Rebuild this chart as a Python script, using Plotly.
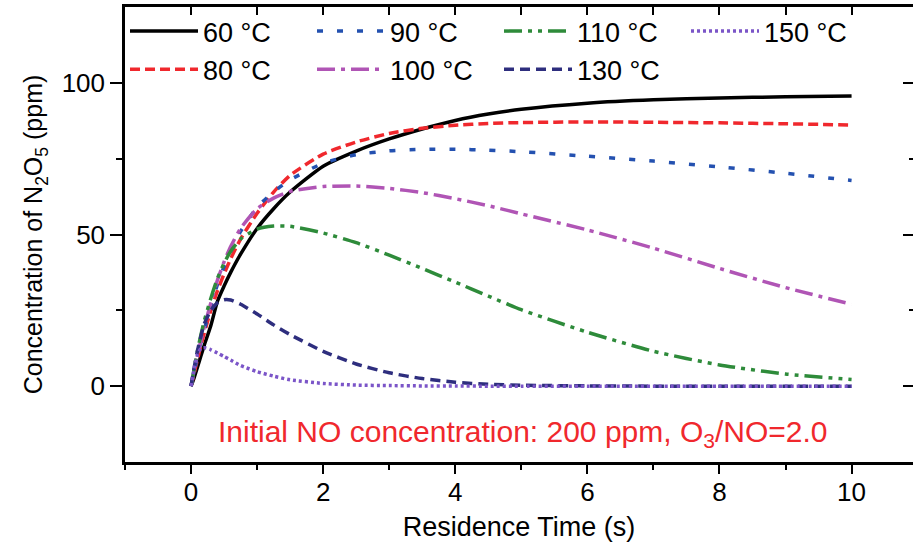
import plotly.graph_objects as go

# Residence time (s)
time_s = [0, 0.05, 0.1, 0.15, 0.2, 0.3, 0.4, 0.5, 0.6, 0.75, 1, 1.25, 1.5, 2, 2.5,
          3, 3.5, 4, 4.5, 5, 6, 7, 8, 9, 10]

# N2O5 concentration (ppm) per temperature
c60 = [0, 3, 6.5, 10, 13.5, 20, 28, 33, 37.5, 43.5, 52, 58.5, 64, 72.5, 77.5,
       81.5, 84.8, 87.6, 89.7, 91.3, 93.3, 94.4, 95, 95.4, 95.7]
c80 = [0, 4.5, 9, 13.5, 17.5, 25, 31.5, 37, 42, 48.5, 57, 64, 69.5, 76.5, 80.5,
       83.3, 85, 86, 86.6, 86.9, 87.1, 87, 86.8, 86.5, 86.1]
c90 = [0, 5, 10, 14.5, 18.5, 26.5, 33.5, 39.5, 44.5, 51, 59, 64, 68, 73.5, 76.3,
       77.6, 78.1, 78.1, 77.8, 77.3, 75.8, 74.2, 72.3, 70.2, 67.8]
c100 = [0, 5.5, 10.5, 15, 19.5, 27.5, 35, 41, 46, 52, 58.5, 62, 64.2, 65.8, 66,
        65.2, 63.8, 61.8, 59.5, 56.8, 51.5, 45.5, 38.8, 32.5, 27]
c110 = [0, 6, 12, 17, 21.5, 29, 35.5, 40.5, 44.5, 48.5, 51.8, 52.8, 52.7, 50.5, 47.3,
        43.2, 38.8, 34.3, 29.7, 25.2, 17.8, 11.5, 7, 4, 2.2]
c130 = [0, 6.5, 12, 16.5, 20.5, 25, 27.5, 28.5, 28.4, 27, 23.8, 20.2, 17, 11.5, 7.3,
        4.4, 2.5, 1.3, 0.6, 0.3, 0.1, 0, 0, 0, 0]
c150 = [0, 6, 10.5, 12.5, 12.7, 12, 10.9, 9.8, 8.6, 6.8, 4.8, 3.3, 2.1, 0.9, 0.35,
        0.2, 0.08, 0.03, 0.01, 0, 0, 0, 0, 0, 0]

series_names = ["60 °C", "80 °C", "90 °C", "100 °C", "110 °C", "130 °C", "150 °C"]
series_values = [c60, c80, c90, c100, c110, c130, c150]
colors = ["#000000", "#F0282D", "#2451B0", "#B055B5", "#2E8B3A", "#2E2E7E", "#7B55C8"]
dashes = ["solid", "10px,5px", "6px,14px", "18px,6px,4px,6px",
          "18px,6px,4px,6px,4px,6px", "10px,6px", "3px,3px"]
legend_ranks = [1, 5, 2, 6, 3, 7, 4]

FONT = "Liberation Sans, Arial, sans-serif"

fig = go.Figure()
for name, vals, col, dsh, rk in zip(series_names, series_values, colors, dashes, legend_ranks):
    fig.add_trace(go.Scatter(
        x=time_s, y=vals, name=name, mode="lines",
        line=dict(color=col, width=3.5, dash=dsh, shape="spline", smoothing=0.6),
        legendrank=rk,
    ))

# invisible helper trace so the mirrored tick axes (top / right) are drawn
fig.add_trace(go.Scatter(x=[None], y=[None], xaxis="x2", yaxis="y2",
                         showlegend=False, hoverinfo="skip", mode="lines"))

xr = [-1, 10.93]
yr = [-25, 125]

fig.update_layout(
    width=913, height=542,
    margin=dict(l=125, r=0, t=7, b=80),
    plot_bgcolor="white", paper_bgcolor="white",
    font=dict(family=FONT, color="black"),
    showlegend=True,
    legend=dict(
        orientation="h", x=0.0, y=1.0, xanchor="left", yanchor="top",
        bgcolor="rgba(0,0,0,0)", font=dict(size=27, family=FONT),
        entrywidth=104, entrywidthmode="pixels", itemwidth=68,
        tracegroupgap=0, itemclick=False,
    ),
    xaxis=dict(
        range=xr, showgrid=False, zeroline=False, automargin=False,
        showline=True, linecolor="black", linewidth=2.5,
        tickmode="array", tickvals=[0, 2, 4, 6, 8, 10],
        ticks="outside", ticklen=9, tickwidth=2, tickcolor="black",
        ticklabelstandoff=-4,
        tickfont=dict(size=26, family=FONT),
        minor=dict(tickmode="array", tickvals=[-1, 1, 3, 5, 7, 9], ticks="outside",
                   ticklen=5, tickwidth=2, tickcolor="black"),
        title=dict(text="Residence Time (s)", font=dict(size=27, family=FONT), standoff=26),
    ),
    yaxis=dict(
        range=yr, showgrid=False, zeroline=False, automargin=False,
        showline=True, linecolor="black", linewidth=2.5,
        tickmode="array", tickvals=[0, 50, 100],
        ticks="outside", ticklen=12, tickwidth=2, tickcolor="black",
        tickfont=dict(size=26, family=FONT),
        minor=dict(tickmode="array", tickvals=[25, 75], ticks="outside",
                   ticklen=6, tickwidth=2, tickcolor="black"),
        title=dict(text="Concentration of N<sub>2</sub>O<sub>5</sub> (ppm)",
                   font=dict(size=25, family=FONT), standoff=12),
    ),
    xaxis2=dict(
        range=xr, overlaying="x", side="top", anchor="y2", automargin=False,
        showgrid=False, zeroline=False, showline=True, linecolor="black", linewidth=2.5,
        tickmode="array", tickvals=list(range(0, 11)), ticks="inside", ticklen=8,
        tickwidth=2, tickcolor="black", showticklabels=False,
    ),
    yaxis2=dict(
        range=yr, overlaying="y", side="right", anchor="x2", automargin=False,
        showgrid=False, zeroline=False, showline=False,
        tickmode="array", tickvals=[0, 50, 100], ticks="inside", ticklen=10,
        tickwidth=2, tickcolor="black", showticklabels=False,
        minor=dict(tickmode="array", tickvals=[25, 75], ticks="inside",
                   ticklen=4, tickwidth=2, tickcolor="black"),
    ),
)

fig.add_annotation(
    x=5.02, y=-15.5, xref="x", yref="y",
    text="Initial NO concentration: 200 ppm, O<sub>3</sub>/NO=2.0",
    showarrow=False, font=dict(size=30, color="#F0282D", family=FONT),
)

fig.write_html("out.html")
